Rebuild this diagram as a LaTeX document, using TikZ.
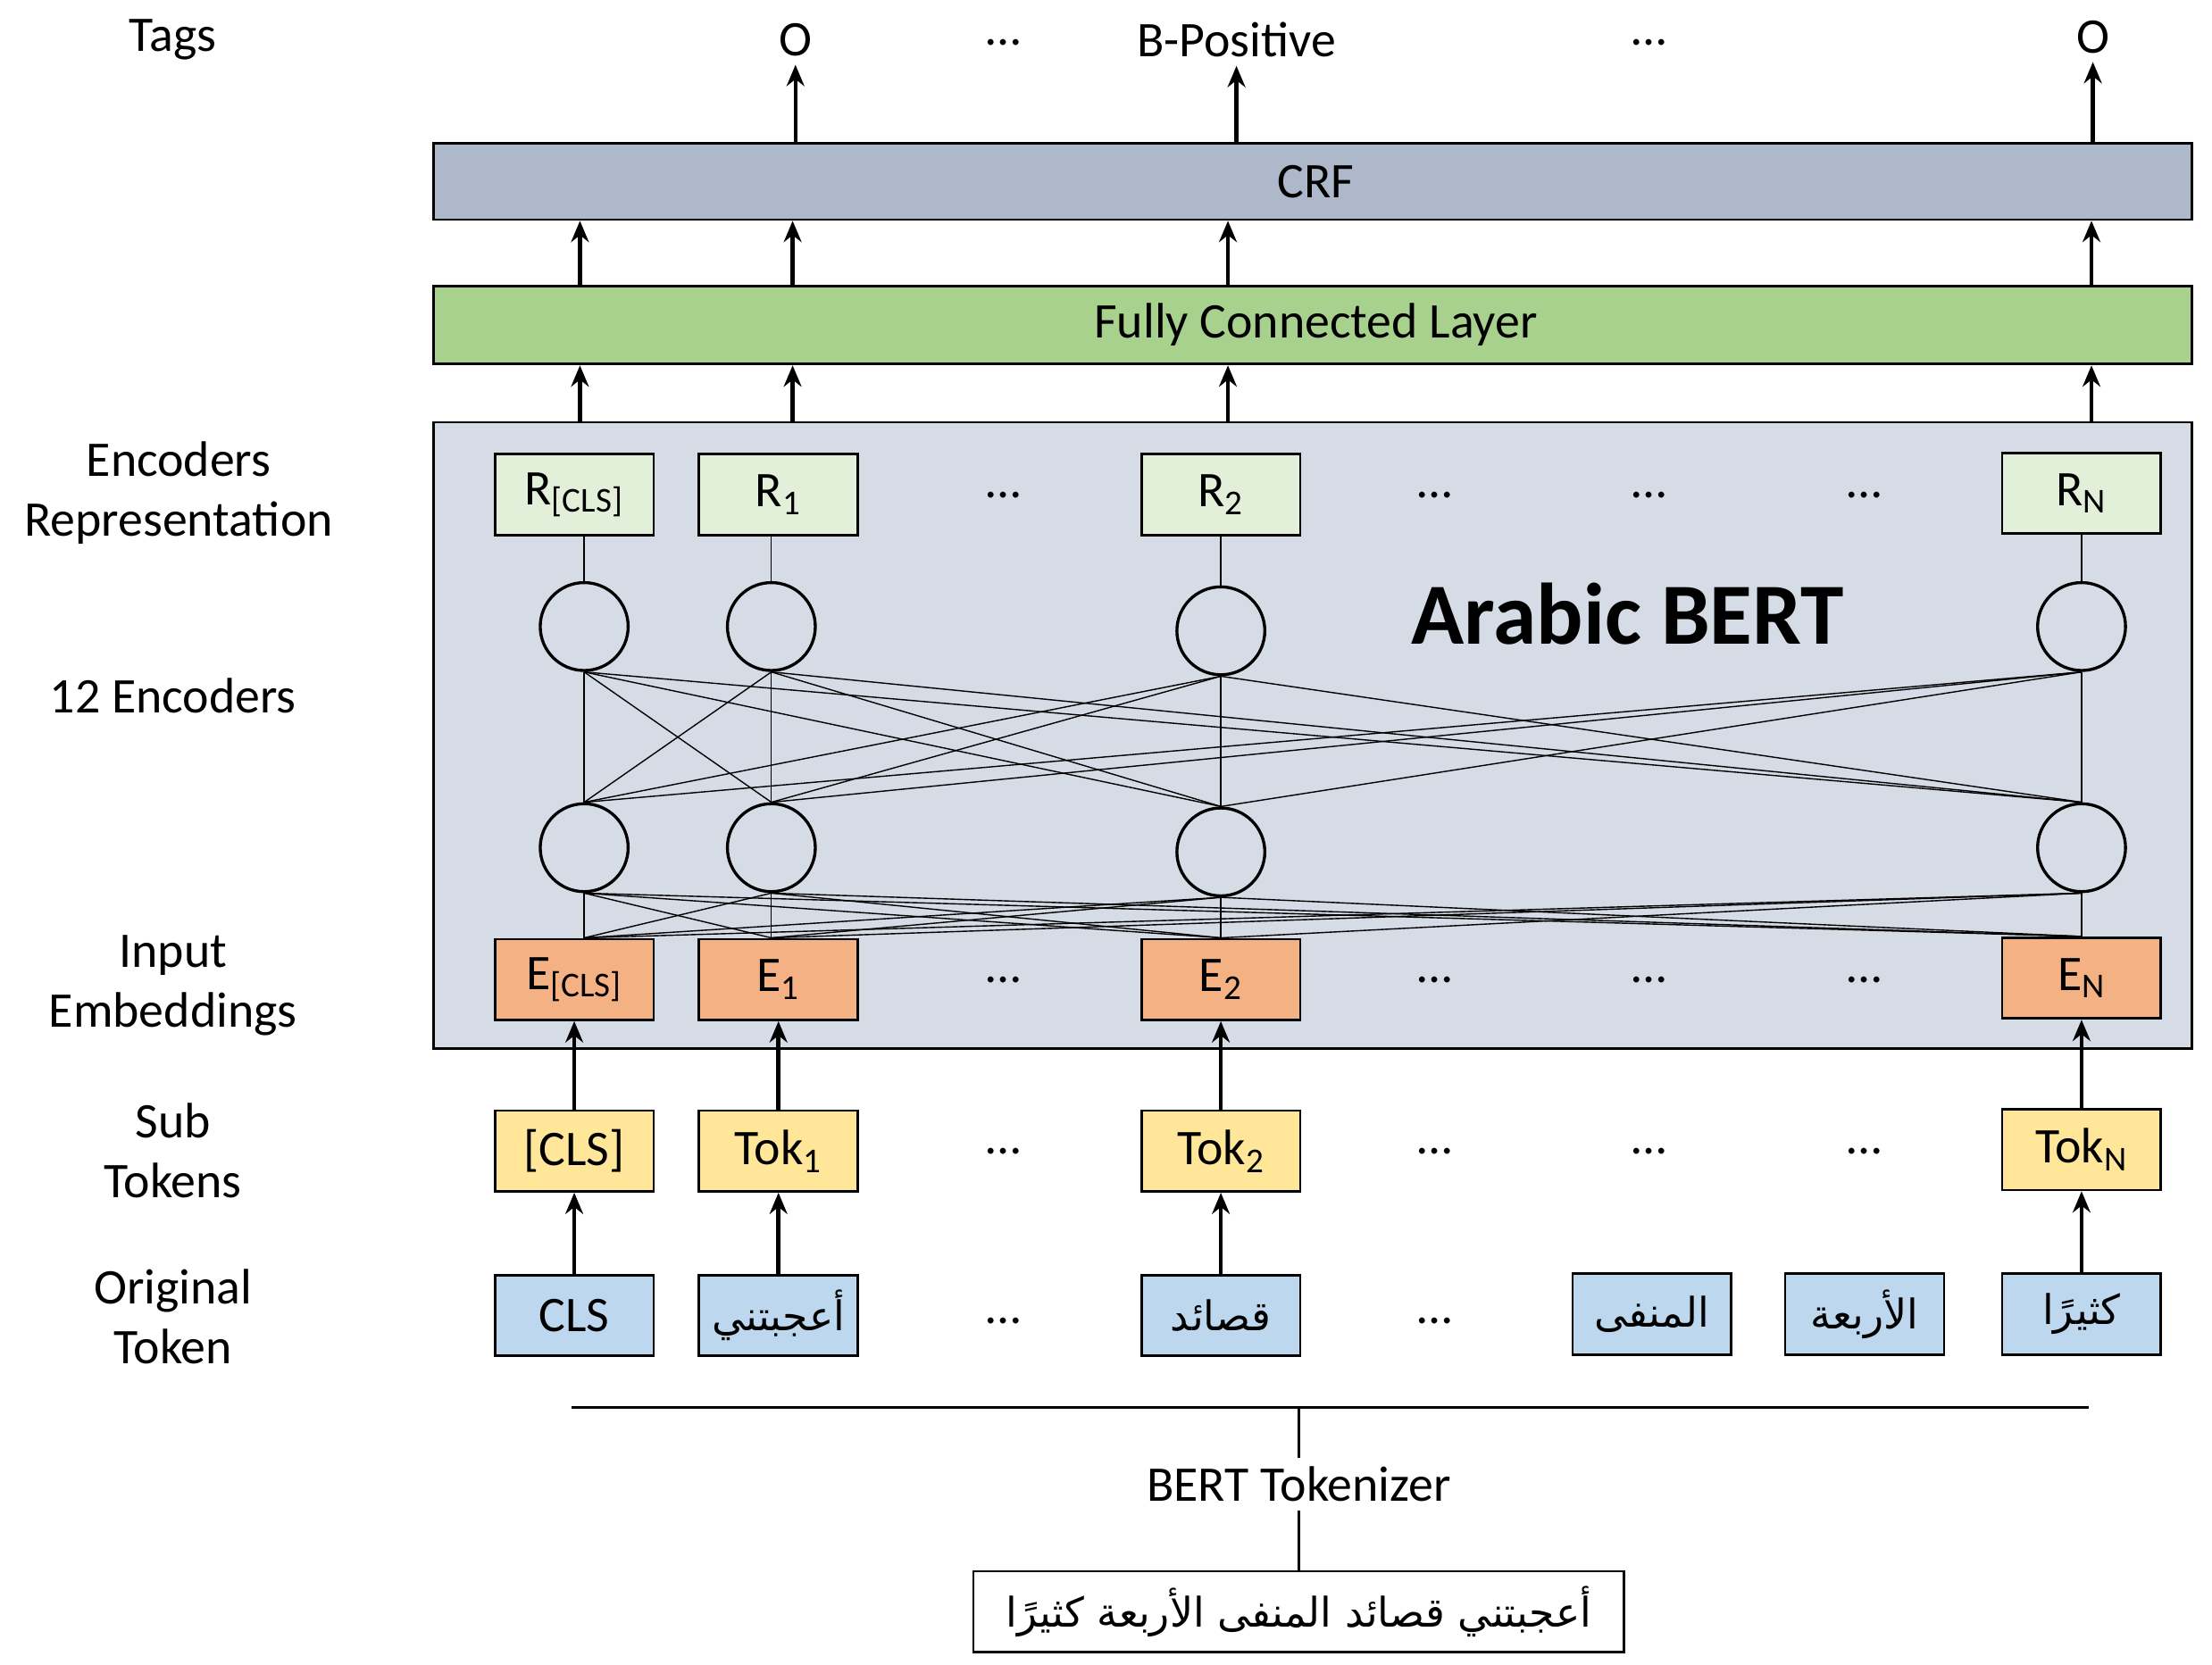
\documentclass[tikz,border=0pt]{standalone}
\usepackage{fontspec}
\setmainfont{Carlito}
\newfontfamily\arabicfont[Script=Arabic,Scale=0.82]{DejaVu Sans}
\usetikzlibrary{arrows.meta}
\definecolor{origBlue}{HTML}{BDD7EE}
\definecolor{tokYellow}{HTML}{FFE699}
\definecolor{embOrange}{HTML}{F4B183}
\definecolor{repGreen}{HTML}{E2F0D9}
\definecolor{fcGreen}{HTML}{A9D18E}
\definecolor{crfGray}{HTML}{ADB9CA}
\definecolor{bertGray}{HTML}{D6DCE5}
\begin{document}
\TeXXeTstate=1
\begin{tikzpicture}[x=0.2mm, y=-0.2mm,
            font=\fontsize{20}{24}\selectfont,
            tokBox/.style={draw, line width=1pt, minimum width=22.4mm, minimum height=11.4mm, inner sep=0pt},
            encNode/.style={circle, draw, line width=1.2pt, minimum size=12.4mm, inner sep=0pt},
            upArrow/.style={-{Stealth[length=3mm,width=2.5mm]}, line width=1.6pt},
            wire/.style={line width=0.5pt},
            sideLabel/.style={align=center}]

            \useasboundingbox (0,0) rectangle (1560,1174);

            % layers
            \node [draw, line width=1pt, fill=bertGray, minimum width=248mm, minimum height=88.4mm, anchor=north west, inner sep=0pt](bert) at (305,297) {};
            \node [draw, line width=1pt, fill=fcGreen, minimum width=248mm, minimum height=11mm, anchor=north west, inner sep=0pt](fc) at (305,201) {};
            \node [draw, line width=1pt, fill=crfGray, minimum width=248mm, minimum height=10.8mm, anchor=north west, inner sep=0pt](crf) at (305,100) {};
            \node (fcText) at (928,229) {Fully Connected Layer};
            \node (crfText) at (928,128) {CRF};
            \node [font=\fontsize{35}{38}\selectfont\bfseries](bertText) at (1148,433) {Arabic BERT};

            % side labels
            \node [sideLabel](tagsLbl) at (122,28) {Tags};
            \node [sideLabel](repLbl) at (126,348) {Encoders\\Representation};
            \node [sideLabel](encLbl) at (122,491) {12 Encoders};
            \node [sideLabel](embLbl) at (122,695) {Input\\Embeddings};
            \node [sideLabel](subLbl) at (122,812) {Sub\\Tokens};
            \node [sideLabel](origLbl) at (122,929) {Original\\Token};

            % original tokens
            \node [tokBox, fill=origBlue](orig0) at (405,928) {CLS};
            \node [tokBox, fill=origBlue](orig1) at (549,928) {\arabicfont أعجبتني};
            \node [tokBox, fill=origBlue](orig2) at (861,928) {\arabicfont قصائد};
            \node [tokBox, fill=origBlue](orig3) at (1165,927) {\arabicfont المنفى};
            \node [tokBox, fill=origBlue](orig4) at (1315,927) {\arabicfont الأربعة};
            \node [tokBox, fill=origBlue](orig5) at (1468,927) {\arabicfont كثيرًا};

            % sub tokens
            \node [tokBox, fill=tokYellow](tok0) at (405,812) {[CLS]};
            \node [tokBox, fill=tokYellow](tok1) at (549,812) {Tok\textsubscript{1}};
            \node [tokBox, fill=tokYellow](tok2) at (861,812) {Tok\textsubscript{2}};
            \node [tokBox, fill=tokYellow](tokN) at (1468,811) {Tok\textsubscript{N}};

            % embeddings
            \node [tokBox, fill=embOrange](emb0) at (405,691) {E\textsubscript{[CLS]}};
            \node [tokBox, fill=embOrange](emb1) at (549,691) {E\textsubscript{1}};
            \node [tokBox, fill=embOrange](emb2) at (861,691) {E\textsubscript{2}};
            \node [tokBox, fill=embOrange](embN) at (1468,690) {E\textsubscript{N}};

            % representations
            \node [tokBox, fill=repGreen](rep0) at (405,349) {R\textsubscript{[CLS]}};
            \node [tokBox, fill=repGreen](rep1) at (549,349) {R\textsubscript{1}};
            \node [tokBox, fill=repGreen](rep2) at (861,349) {R\textsubscript{2}};
            \node [tokBox, fill=repGreen](repN) at (1468,348) {R\textsubscript{N}};

            % encoders
            \node [encNode](top0) at (412,442) {};
            \node [encNode](top1) at (544,442) {};
            \node [encNode](top2) at (861,445) {};
            \node [encNode](topN) at (1468,442) {};
            \node [encNode](bot0) at (412,598) {};
            \node [encNode](bot1) at (544,598) {};
            \node [encNode](bot2) at (861,601) {};
            \node [encNode](botN) at (1468,598) {};

            % dots
            \foreach \y/\n in {349/r, 691/e, 812/t}
            {
                \foreach \x [count=\i] in {708,1012,1163,1315}
                    \node (dots\n\i) at (\x,\y) {\dots};
            }
            \node (dotso1) at (708,932) {\dots};
            \node (dotso2) at (1012,932) {\dots};
            \node (dotsg1) at (708,30) {\dots};
            \node (dotsg2) at (1163,30) {\dots};

            % tags
            \node (tag1) at (561,28) {O};
            \node (tag2) at (872,28) {B-Positive};
            \node (tag3) at (1476,26) {O};

            % wiring
            \foreach \i in {0,1,2,N}
            {
                \draw[wire] (rep\i.south -| top\i) -- (top\i);
                \foreach \j in {0,1,2,N}
                {
                    \draw[wire] (top\i.south) -- (bot\j.north);
                    \draw[wire] (bot\i.south) -- (emb\j.north -| bot\j.south);
                }
            }

            % arrows
            \foreach \i in {0,1,2,N}
            {
                \draw[upArrow] (tok\i) -- (emb\i);
            }
            \draw[upArrow] (orig0) -- (tok0);
            \draw[upArrow] (orig1) -- (tok1);
            \draw[upArrow] (orig2) -- (tok2);
            \draw[upArrow] (orig5) -- (tokN);
            \foreach \x in {409,559,866,1475}
            {
                \coordinate (bertTop\x) at (\x,297);
                \draw[upArrow] (bertTop\x) -- (bertTop\x |- fc.south);
                \coordinate (fcTop\x) at (\x,201);
                \draw[upArrow] (fcTop\x) -- (fcTop\x |- crf.south);
            }
            \draw[upArrow] (crf.north -| tag1) -- (tag1);
            \draw[upArrow] (crf.north -| tag2) -- (tag2);
            \draw[upArrow] (crf.north -| tag3) -- (tag3);

            % tokenizer
            \coordinate (tokLeft) at (403,993);
            \coordinate (tokRight) at (1473,993);
            \coordinate (tokMid) at (916,993);
            \draw[line width=1pt] (tokLeft) -- (tokRight);
            \node (tokenizer) at (916,1047) {BERT Tokenizer};
            \node [draw, line width=1pt, minimum width=91.8mm, minimum height=11.4mm](sentence) at (916,1137) {\arabicfont\beginR أعجبتني قصائد المنفى الأربعة كثيرًا\endR};
            \draw[line width=1pt] (tokMid) -- (tokenizer);
            \draw[line width=1pt] (tokenizer) -- (sentence);
        \end{tikzpicture}
\end{document}
